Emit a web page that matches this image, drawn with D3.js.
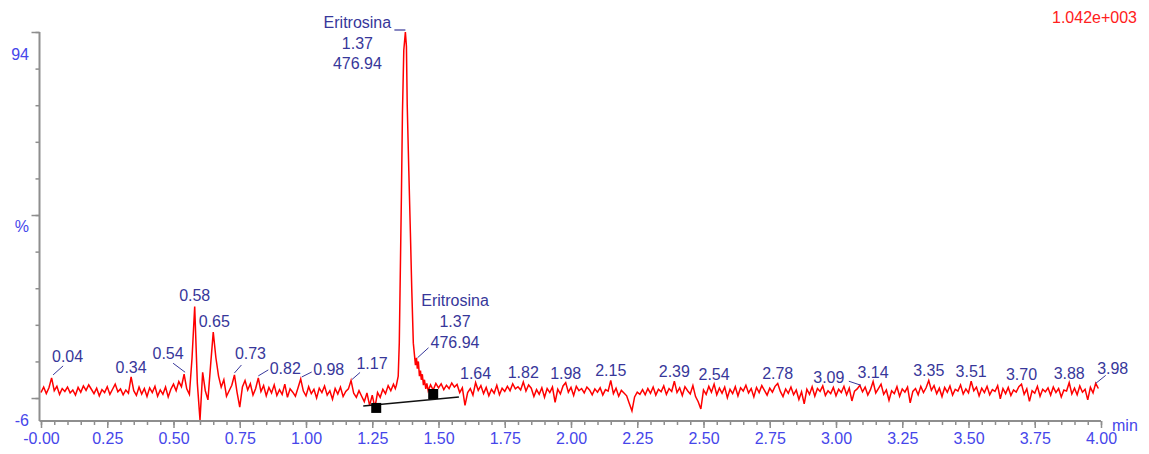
<!DOCTYPE html>
<html>
<head>
<meta charset="utf-8">
<script src="https://cdn.jsdelivr.net/npm/d3@7"></script>
<style>
  body { margin: 0; background: #fff; }
  svg { display: block; font-family: 'Liberation Sans', Arial, sans-serif; }
</style>
</head>
<body>
<svg id="chart" width="1149" height="454"></svg>
<script>
// trace intensity (%), one reading every 0.01 min starting at 0.00
// null = covered by the finer mainPeak readings below
const sampleStart = 0;
const sampleStep = 0.01;
const intensity = [
  1.5, 3.0, 1.2, 2.8, 5.5, 2.0, 3.2, 1.0, 2.6, 1.8,
  3.0, 1.4, 2.2, 0.8, 2.9, 1.6, 3.3, 2.1, 3.6, 2.4,
  1.2, 2.7, 0.6, 2.3, 1.5, 3.1, 1.0, 2.4, 3.8, 1.7,
  2.5, 0.9, 2.2, 1.3, 5.8, 2.0, 0.7, 3.0, 1.1, 2.6,
  0.4, 2.8, 1.5, 3.2, 0.5, 2.2, 1.0, 3.0, 0.3, 2.4,
  3.8, 2.0, 4.5, 3.1, 6.5, 2.5, 1.0, 11, 25, 4.0,
  -6, 7.0, 2.0, -0.5, 9.0, 18, 11, 6.0, 3.0, 5.0,
  0.5, 2.0, 3.5, 6.3, 1.5, -2.5, 3.0, 4.8, 2.2, 3.9,
  0.8, 2.6, 5.5, 1.8, 3.4, 0.6, 2.9, 1.4, 3.6, 0.7,
  2.3, 1.0, 3.8, 0.2, 2.5, 1.6, 0.5, 2.8, 5.2, 1.9,
  0.6, 3.1, 1.2, 2.4, 0.0, 2.7, 1.5, 3.3, 0.8, 2.0,
  -0.3, 2.6, 1.1, 3.0, 0.4, 1.8, 2.5, 4.8, 1.3, 0.2,
  2.0, 0.5, -1.0, 1.4, -2.0, 0.8, -2.6, 1.5, 0.2, 2.4,
  1.2, 3.4, 2.0, 3.8, null, null, null, null, null, null,
  null, null, null, null, null, null, null, 3.6, 2.2, 4.0,
  2.8, 3.9, 2.3, 3.5, 2.6, 4.1, 3.0, 3.7, 1.5, 2.8,
  -2.0, 1.5, 2.6, 0.8, 4.2, 2.1, 3.4, 1.2, 2.9, 0.6,
  2.4, 1.3, 3.5, 0.9, 2.7, 1.8, 3.2, 2.0, 3.9, 2.5,
  3.1, 2.2, 4.4, 1.9, 3.6, 2.7, 0.4, 2.3, 1.0, 2.8,
  0.2, 2.6, 1.5, 3.0, -1.2, 2.4, 1.1, 3.3, 4.2, 1.6,
  2.9, 0.7, 3.2, 2.0, 2.6, 1.4, 3.0, 2.2, 0.9, 2.5,
  1.6, 2.8, 0.8, 2.3, 1.9, 4.8, 1.2, 2.7, 0.5, 2.1,
  1.4, 0.6, -1.5, -3.5, 0.3, 1.6, 1.0, 2.3, 0.9, 2.6,
  1.3, 3.0, 0.8, 2.4, 1.7, 3.3, 1.0, 2.6, 1.8, 4.6,
  1.5, 2.8, 0.7, 3.1, 2.0, 1.1, 3.4, 0.4, -1.0, -3.0,
  2.2, 1.0, 3.2, 1.6, 3.8, 0.9, 2.7, 1.3, 3.0, 0.1,
  2.4, 1.2, 3.1, 0.6, 2.8, 1.9, 3.5, 1.4, 2.6, 0.3,
  2.9, 1.5, 3.4, 2.1, 0.8, 2.7, 1.6, 3.2, 4.0, 1.8,
  0.4, 2.5, 1.3, 3.0, 0.9, 2.2, -0.4, 1.7, -1.6, 2.4,
  1.0, 3.1, 0.5, 2.6, 1.8, 3.3, 0.7, 2.0, 1.2, 2.9,
  0.6, 2.4, 1.5, 3.2, 0.9, 2.7, -0.8, 1.9, 2.5, 3.5,
  1.7, 3.0, 0.8, 2.3, 4.5, 1.4, 2.6, 3.8, 1.0, 2.2,
  -0.6, 2.0, 1.2, 3.1, 0.5, 2.5, 1.6, 3.0, -1.3, 1.8,
  2.6, 0.9, 3.2, 1.5, 2.8, 4.8, 2.1, 3.4, 1.2, 2.7,
  0.4, 2.9, 1.6, 3.3, 0.8, 2.4, 1.9, 3.6, 1.1, 2.5,
  1.4, 4.6, 2.0, 3.0, 0.6, 2.7, 1.5, 3.2, 0.9, 2.3,
  1.8, 3.4, -0.2, 2.6, 1.2, 2.9, 0.7, 2.2, 1.6, 3.1,
  3.8, 1.0, 2.5, -0.9, 2.0, 1.3, 3.2, 0.5, 2.4, 1.7,
  2.8, 0.8, 3.0, 1.5, 2.6, 0.3, 2.2, 1.9, 4.2, 1.1,
  2.7, 0.9, 3.3, 1.6, 2.4, -0.5, 2.9, 1.4, 4.0, 2.6
];

// Eritrosina peak, [min, %]
const mainPeak = [
  [1.337, 2.6], [1.341, 3.5], [1.348, 6], [1.352, 15], [1.356, 35],
  [1.360, 55], [1.364, 78], [1.369, 95], [1.375, 100], [1.379, 96],
  [1.382, 80], [1.388, 62], [1.394, 45], [1.399, 30], [1.405, 15],
  [1.409, 12], [1.413, 9], [1.417, 11], [1.420, 8], [1.424, 10],
  [1.428, 6], [1.432, 7.5], [1.435, 5], [1.439, 6.5], [1.443, 3.5],
  [1.447, 5], [1.452, 2.5], [1.456, 4], [1.461, 2]
];

const peakTimes = [0.04, 0.34, 0.54, 0.58, 0.65, 0.73, 0.82, 0.98, 1.17, 1.64, 1.82, 1.98,
  2.15, 2.39, 2.54, 2.78, 3.09, 3.14, 3.35, 3.51, 3.70, 3.88, 3.98];

const compoundName = 'Eritrosina';
const compoundTime = '1.37';
const compoundArea = '476.94';

// integration baseline and its start / end marks, [min, %]
const integrationLine = [[1.216, -2.2], [1.577, 0.3]];
const integrationMarks = [[1.265, -2.7], [1.48, 1.1]];

const xMajorTicks = [0, 0.25, 0.5, 0.75, 1, 1.25, 1.5, 1.75, 2, 2.25, 2.5, 2.75, 3, 3.25, 3.5, 3.75, 4];
const xTickLabels = ['-0.00', '0.25', '0.50', '0.75', '1.00', '1.25', '1.50', '1.75', '2.00',
  '2.25', '2.50', '2.75', '3.00', '3.25', '3.50', '3.75', '4.00'];
const yMinorTicks = [0, 10, 20, 30, 40, 50, 60, 70, 80, 90, 100];
const yMajorTicks = [0, 50, 100];
const yRangeLabels = [94, -6];
const scaleLabel = '1.042e+003';

// label nudges (px from the peak top); leader = [x1, y1, x2, y2]
const labelLayout = {
  0.04: { dx: 16, dy: -22, leader: [1.5, -3, 11.5, -12] },
  0.54: { dx: -16, dy: -21, leader: [1, -2, -11, -11] },
  0.58: { dx: 0, dy: -12 },
  0.65: { dx: 1, dy: -11 },
  0.73: { dx: 16, dy: -22, leader: [0, -2, 7, -10] },
  0.82: { dx: 27, dy: -10, leader: [0, -2, 10, -8] },
  0.98: { dx: 28, dy: -10, leader: [1, -2, 11, -7] },
  1.17: { dx: 21, dy: -17, leader: [1, -1, 9, -8] },
  3.09: { dx: -31, dy: -8, leader: [1, 0, -11, -4] },
  3.98: { dx: 17, dy: -15, leader: [0, 0, 10, -8] },
};

const width = 1149;
const height = 454;
const labelBlue = '#37379a';
const axisBlue = '#4646ea';
const axisGrey = '#8e8e8e';

const svg = d3.select('#chart');

const x = d3.scaleLinear().domain([0, 4]).range([41, 1101]);
const y = d3.scaleLinear().domain([-6, 100]).range([420, 32]);

// build the trace
const trace = intensity
  .map((v, i) => [sampleStart + i * sampleStep, v])
  .filter((d) => d[1] !== null)
  .concat(mainPeak)
  .sort((a, b) => a[0] - b[0]);

const valueAt = (t) => d3.least(trace, (d) => Math.abs(d[0] - t));

// axes
const xAxisY = 421;
const axisX = 39.5;

const xMinor = svg.append('g')
  .attr('transform', `translate(0,${xAxisY})`)
  .call(d3.axisBottom(x).tickValues(d3.range(0, 4.001, 0.05)).tickSize(4).tickFormat(''));
xMinor.select('.domain').remove();

const xMajor = svg.append('g')
  .attr('transform', `translate(0,${xAxisY})`)
  .call(d3.axisBottom(x).tickValues(xMajorTicks).tickSize(7).tickPadding(5)
    .tickFormat((d, i) => xTickLabels[i]));
xMajor.select('.domain').remove();
xMajor.selectAll('text')
  .attr('fill', axisBlue)
  .attr('font-size', 16)
  .attr('font-family', "'Liberation Sans', Arial, sans-serif");

const yMinor = svg.append('g')
  .attr('transform', `translate(${axisX},0)`)
  .call(d3.axisLeft(y).tickValues(yMinorTicks).tickSize(4).tickFormat(''));
yMinor.select('.domain').remove();

const yMajor = svg.append('g')
  .attr('transform', `translate(${axisX},0)`)
  .call(d3.axisLeft(y).tickValues(yMajorTicks).tickSize(8).tickFormat(''));
yMajor.select('.domain').remove();

svg.selectAll('.tick line').attr('stroke', axisGrey).attr('stroke-width', 1.5);

svg.append('line')
  .attr('x1', axisX).attr('x2', x(4))
  .attr('y1', xAxisY).attr('y2', xAxisY)
  .attr('stroke', axisGrey).attr('stroke-width', 2);
svg.append('line')
  .attr('x1', axisX).attr('x2', axisX)
  .attr('y1', y(100)).attr('y2', xAxisY)
  .attr('stroke', axisGrey).attr('stroke-width', 2);

svg.selectAll('.ylab')
  .data(yRangeLabels)
  .join('text')
  .attr('class', 'ylab')
  .attr('x', 29)
  .attr('y', (d) => y(d) + 6)
  .attr('text-anchor', 'end')
  .attr('font-size', 16)
  .attr('fill', axisBlue)
  .text((d) => d);

svg.append('text')
  .attr('x', 29).attr('y', y(47) + 6)
  .attr('text-anchor', 'end')
  .attr('font-size', 16)
  .attr('fill', axisBlue)
  .text('%');

svg.append('text')
  .attr('x', 1112).attr('y', xAxisY + 10)
  .attr('font-size', 16)
  .attr('fill', axisBlue)
  .text('min');

svg.append('text')
  .attr('x', 1137).attr('y', 23)
  .attr('text-anchor', 'end')
  .attr('font-size', 16)
  .attr('fill', '#ff2020')
  .text(scaleLabel);

// trace
const line = d3.line().x((d) => x(d[0])).y((d) => y(d[1]));
svg.append('path')
  .datum(trace)
  .attr('d', line)
  .attr('fill', 'none')
  .attr('stroke', '#ff0000')
  .attr('stroke-width', 1.5);

// integration baseline
svg.append('path')
  .datum(integrationLine)
  .attr('d', line)
  .attr('stroke', '#111')
  .attr('stroke-width', 1.5);
svg.selectAll('.mark')
  .data(integrationMarks)
  .join('rect')
  .attr('class', 'mark')
  .attr('x', (d) => x(d[0]) - 5)
  .attr('y', (d) => y(d[1]) - 5)
  .attr('width', 10)
  .attr('height', 10)
  .attr('fill', '#000');

// peak labels
const labels = svg.append('g').attr('fill', labelBlue).attr('font-size', 16);
peakTimes.forEach((t) => {
  const p = valueAt(t);
  const ax = x(p[0]);
  const ay = y(p[1]);
  const lay = labelLayout[t] || { dx: 0, dy: -10 };
  labels.append('text')
    .attr('x', ax + lay.dx)
    .attr('y', ay + lay.dy + 6)
    .attr('text-anchor', 'middle')
    .text(d3.format('.2f')(t));
  if (lay.leader) {
    const [x1, y1, x2, y2] = lay.leader;
    labels.append('line')
      .attr('x1', ax + x1).attr('y1', ay + y1)
      .attr('x2', ax + x2).attr('y2', ay + y2)
      .attr('stroke', labelBlue).attr('stroke-width', 1);
  }
});

// compound labels: one at the apex, one on the tail
const apex = d3.greatest(mainPeak, (d) => d[1]);
const apexX = x(apex[0]);
const apexY = y(apex[1]);
[compoundName, compoundTime, compoundArea].forEach((s, i) => {
  labels.append('text')
    .attr('x', apexX - 48)
    .attr('y', apexY - 10 + i * 20.5 + 6)
    .attr('text-anchor', 'middle')
    .text(s);
});
labels.append('line')
  .attr('x1', apexX - 11).attr('y1', apexY - 2)
  .attr('x2', apexX).attr('y2', apexY - 2)
  .attr('stroke', labelBlue).attr('stroke-width', 1.2);

const tail = valueAt(1.417);
const tailX = x(tail[0]);
const tailY = y(tail[1]);
[compoundName, compoundTime, compoundArea].forEach((s, i) => {
  labels.append('text')
    .attr('x', tailX + 38.5)
    .attr('y', tailY - 58 + i * 21 + 6)
    .attr('text-anchor', 'middle')
    .text(s);
});
labels.append('line')
  .attr('x1', tailX + 1).attr('y1', tailY)
  .attr('x2', tailX + 12).attr('y2', tailY - 10)
  .attr('stroke', labelBlue).attr('stroke-width', 1);
</script>
</body>
</html>
